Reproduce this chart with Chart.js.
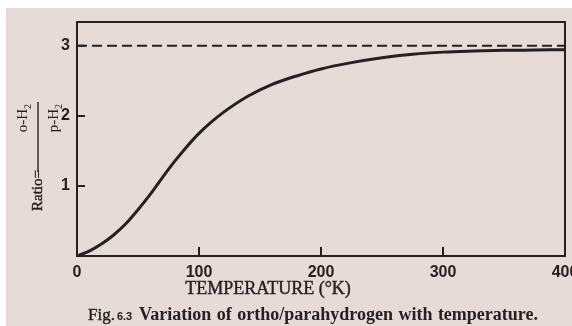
<!DOCTYPE html>
<html>
<head>
<meta charset="utf-8">
<script src="https://cdn.jsdelivr.net/npm/chart.js@4.4.1/dist/chart.umd.min.js"></script>
<style>
html, body { margin: 0; padding: 0; background: #fff; }
canvas { display: block; }
</style>
</head>
<body>
<canvas id="ratioChart" width="572" height="326"></canvas>
<script>
// ortho/para hydrogen ratio vs temperature
const temperatureK = [0, 10, 20, 30, 40, 50, 60, 70, 80, 90, 100, 110, 120, 140, 160, 180, 200, 225, 250, 275, 300, 325, 350, 375, 400];
const orthoParaRatio = [0, 0.07, 0.17, 0.3, 0.46, 0.66, 0.88, 1.12, 1.35, 1.56, 1.75, 1.91, 2.05, 2.28, 2.45, 2.57, 2.67, 2.76, 2.83, 2.88, 2.91, 2.925, 2.935, 2.94, 2.945];

// high temperature limit (3:1)
const limitTemps = [0, 400];
const limitRatio = [3, 3];

const xTicks = [0, 100, 200, 300, 400];
const yTicks = [1, 2, 3];
const innerXTicks = [100, 200, 300];

const ink = "#262120"
const paper = "#e7dbd8"
const serif = "'Liberation Serif', 'DejaVu Serif', serif"
const sans = "'Liberation Sans', Arial, sans-serif"

const paperPlugin = {
    id: "paper",
    beforeDraw(chart) {
        const ctx = chart.ctx
        ctx.save()
        ctx.fillStyle = "#fff"
        ctx.fillRect(0, 0, chart.width, chart.height)
        ctx.fillStyle = paper
        ctx.fillRect(6, 8, chart.width - 6, chart.height - 8)
        ctx.restore()
    }
}

// spreads words so the line runs from x0 to x1
function fillJustified(ctx, text, x0, x1, y) {
    const words = text.split(" ")
    const widths = words.map(w => ctx.measureText(w).width)
    const total = widths.reduce((a, b) => a + b, 0)
    const gap = (x1 - x0 - total) / (words.length - 1)
    let x = x0
    words.forEach((w, i) => {
        ctx.fillText(w, x, y)
        x += widths[i] + gap
    })
}

function drawSpecies(ctx, base, centre, baseline) {
    ctx.font = "15px " + serif
    const w1 = ctx.measureText(base).width
    ctx.font = "10px " + serif
    const w2 = ctx.measureText("2").width
    const start = centre - (w1 + w2) / 2
    ctx.font = "15px " + serif
    ctx.fillText(base, start, baseline)
    ctx.font = "10px " + serif
    ctx.fillText("2", start + w1, baseline + 4)
}

// frame, inward tick marks and all the titles
const framePlugin = {
    id: "frame",
    afterDatasetsDraw(chart) {
        const ctx = chart.ctx
        const area = chart.chartArea
        const xs = chart.scales.x
        const ys = chart.scales.y
        ctx.save()
        ctx.strokeStyle = ink
        ctx.lineWidth = 2
        ctx.strokeRect(area.left, area.top, area.right - area.left, area.bottom - area.top)

        ctx.beginPath()
        yTicks.forEach(v => {
            const py = ys.getPixelForValue(v)
            ctx.moveTo(area.left, py)
            ctx.lineTo(area.left + 8, py)
        })
        innerXTicks.forEach(v => {
            const px = xs.getPixelForValue(v)
            ctx.moveTo(px, area.bottom)
            ctx.lineTo(px, area.bottom - 9)
        })
        ctx.stroke()
        ctx.restore()
    },
    afterDraw(chart) {
        const ctx = chart.ctx
        ctx.save()
        ctx.fillStyle = ink
        ctx.strokeStyle = ink

        // x axis title
        ctx.font = "18px " + serif
        ctx.textAlign = "center"
        ctx.textBaseline = "alphabetic"
        ctx.lineWidth = 0.4
        ctx.fillText("TEMPERATURE (°K)", 268, 294)
        ctx.strokeText("TEMPERATURE (°K)", 268, 294)

        // caption
        ctx.textAlign = "left"
        ctx.font = "17px " + serif
        ctx.fillText("Fig.", 88, 320)
        ctx.strokeText("Fig.", 88, 320)
        const figEnd = 88 + ctx.measureText("Fig.").width
        ctx.font = "bold 11px " + sans
        ctx.fillText("6.3", Math.max(115, figEnd + 2), 320)
        ctx.font = "bold 18px " + serif
        fillJustified(ctx, "Variation of ortho/parahydrogen with temperature.", 139, 538, 320)

        // y axis title, rotated: Ratio = o-H2 / p-H2
        ctx.translate(42, 211)
        ctx.rotate(-Math.PI / 2)
        ctx.font = "15px " + serif
        ctx.fillText("Ratio=", 0, 0)
        ctx.strokeText("Ratio=", 0, 0)
        const ratioW = ctx.measureText("Ratio=").width
        ctx.lineWidth = 1.4
        ctx.beginPath()
        ctx.moveTo(ratioW - 2, -4)
        ctx.lineTo(ratioW + 68, -4)
        ctx.stroke()
        const mid = ratioW + 52
        drawSpecies(ctx, "o-H", mid, -15)
        drawSpecies(ctx, "p-H", mid, 16)
        ctx.restore()
    }
}

const ctx = document.getElementById("ratioChart")

new Chart(ctx, {
    type: "line",
    data: {
        datasets: [{
            data: temperatureK.map((t, i) => ({ x: t, y: orthoParaRatio[i] })),
            borderColor: ink,
            borderWidth: 3,
            pointRadius: 0,
            cubicInterpolationMode: "monotone",
            fill: false
        }, {
            data: limitTemps.map((t, i) => ({ x: t, y: limitRatio[i] })),
            borderColor: ink,
            borderWidth: 2,
            borderDash: [10, 5],
            pointRadius: 0,
            fill: false
        }]
    },
    options: {
        responsive: false,
        devicePixelRatio: 1,
        animation: false,
        layout: {
            autoPadding: false,
            padding: { top: 22, right: 7, left: 0, bottom: 0 }
        },
        plugins: {
            legend: { display: false },
            tooltip: { enabled: false }
        },
        scales: {
            x: {
                type: "linear",
                min: 0,
                max: 400,
                afterBuildTicks: (scale) => { scale.ticks = xTicks.map(v => ({ value: v })) },
                afterFit: (scale) => {
                    scale.height = 70
                    scale.paddingLeft = 0
                    scale.paddingRight = 0
                },
                grid: { display: false, drawTicks: false },
                border: { display: false },
                ticks: {
                    color: ink,
                    padding: 7,
                    maxRotation: 0,
                    autoSkip: false,
                    font: { family: sans, size: 16, weight: "bold" }
                }
            },
            y: {
                min: 0,
                max: 3.34,
                afterBuildTicks: (scale) => { scale.ticks = yTicks.map(v => ({ value: v })) },
                afterFit: (scale) => {
                    scale.width = 77
                    scale.paddingTop = 0
                    scale.paddingBottom = 0
                },
                grid: { display: false, drawTicks: false },
                border: { display: false },
                ticks: {
                    color: ink,
                    padding: 7,
                    font: { family: sans, size: 16, weight: "bold" }
                }
            }
        }
    },
    plugins: [paperPlugin, framePlugin]
});
</script>
</body>
</html>
